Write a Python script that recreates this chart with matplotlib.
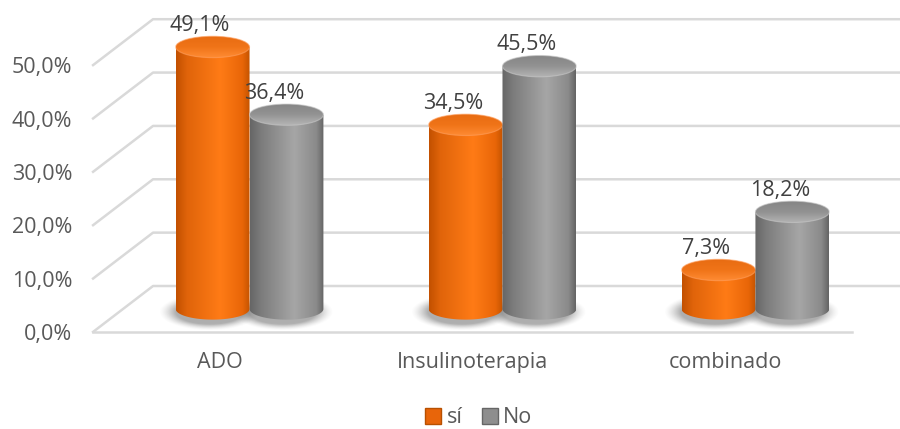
import numpy as np
import matplotlib
matplotlib.use('Agg')
import matplotlib.pyplot as plt
from matplotlib.colors import LinearSegmentedColormap
from matplotlib.patches import Ellipse, PathPatch, Patch
from matplotlib.path import Path

# Data
categories = ['ADO', 'Insulinoterapia', 'combinado']
si_values = [49.1, 34.5, 7.3]
no_values = [36.4, 45.5, 18.2]
series_names = ['sí', 'No']
y_ticks = [0, 10, 20, 30, 40, 50]

plt.rcParams['font.family'] = ['Open Sans', 'DejaVu Sans']
FS = 15.5
TEXT = '#595959'
LABEL = '#404040'
GRID = '#D9D9D9'

# oblique box depth (in category units / percent units)
DX, DY = 0.237, 8.6
# cylinder radius and half-height of its ellipses
RX, RY = 0.146, 2.0
DEPTH = 0.5

orange_body = LinearSegmentedColormap.from_list(
    'ob', [(0, '#C25000'), (0.15, '#E0640A'), (0.6, '#FF7B16'), (0.9, '#E96608'), (1, '#C45300')])
orange_cap = LinearSegmentedColormap.from_list('oc', ['#FF8C34', '#F07418', '#E86C12'])
gray_body = LinearSegmentedColormap.from_list(
    'gb', [(0, '#666666'), (0.15, '#7C7C7C'), (0.6, '#A6A6A6'), (0.9, '#8A8A8A'), (1, '#646464')])
gray_cap = LinearSegmentedColormap.from_list('gc', ['#B4B4B4', '#929292', '#858585'])

fig = plt.figure(figsize=(9, 4.29), dpi=100)
ax = fig.add_axes([0, 0, 1, 1])
n = len(categories)


def shadow(xc, base):
    x0, x1 = xc - RX * 1.6, xc + RX * 1.6
    y0, y1 = base - RY * 3, base + RY * 2
    gx, gy = np.meshgrid(np.linspace(x0, x1, 120), np.linspace(y0, y1, 60))
    r = np.sqrt(((gx - xc + 0.015) / (RX * 1.15)) ** 2 + ((gy - base + 0.6) / (RY * 1.45)) ** 2)
    alpha = 0.42 * np.clip((1.2 - r) / 0.4, 0, 1) ** 1.5
    img = np.zeros(gx.shape + (4,))
    img[..., :3] = 0.25
    img[..., 3] = alpha
    ax.imshow(img, extent=[x0, x1, y0, y1], origin='lower', aspect='auto',
              interpolation='bilinear', zorder=2)


def cylinder(xc, base, top, body_cmap, cap_cmap, rim, z):
    t = np.linspace(0, np.pi, 80)
    bottom = np.column_stack([xc + RX * np.cos(t), base - RY * np.sin(t)])
    verts = np.vstack([[[xc - RX, top], [xc + RX, top]], bottom, [[xc - RX, top]]])
    body = PathPatch(Path(verts), fc='none', ec='none', transform=ax.transData)
    ax.add_patch(body)
    grad = np.linspace(0, 1, 256).reshape(1, -1)
    im = ax.imshow(grad, extent=[xc - RX, xc + RX, base - RY, top], origin='lower',
                   aspect='auto', cmap=body_cmap, interpolation='bicubic', zorder=z)
    im.set_clip_path(body)

    cap = Ellipse((xc, top), 2 * RX, 2 * RY, fc='none', ec='none', transform=ax.transData)
    ax.add_patch(cap)
    vgrad = np.linspace(0, 1, 64).reshape(-1, 1)
    im2 = ax.imshow(vgrad, extent=[xc - RX, xc + RX, top - RY, top + RY], origin='lower',
                    aspect='auto', cmap=cap_cmap, interpolation='bicubic', zorder=z + 0.1)
    im2.set_clip_path(cap)
    ax.add_patch(Ellipse((xc, top), 2 * RX, 2 * RY, fc='none', ec=rim, lw=0.8,
                         alpha=0.6, zorder=z + 0.2))


def pct(v):
    return f'{v:.1f}%'.replace('.', ',')


# gridlines: left diagonal plus back wall line for each level
for v in y_ticks:
    ax.plot([0, DX, n + DX], [v, v + DY, v + DY], color=GRID, lw=1.8, zorder=1)
ax.plot([0, n], [0, 0], color=GRID, lw=1.8, zorder=1)

# cylinders
base = DEPTH * DY
for i, cat in enumerate(categories):
    xc = i + 0.5 + DEPTH * DX
    for j, (val, bc, cc, rim) in enumerate([(si_values[i], orange_body, orange_cap, '#FFA060'),
                                            (no_values[i], gray_body, gray_cap, '#C8C8C8')]):
        cx = xc + (j - 0.5) * 2 * RX
        top = base + val
        shadow(cx, base)
        cylinder(cx, base, top, bc, cc, rim, 3 + i + j * 0.5)
        ax.text(cx - 0.05, top + 4.0, pct(val), ha='center', va='center',
                fontsize=FS, color=LABEL, zorder=10)
    ax.text(i + 0.5, -5.8, cat, ha='center', va='center', fontsize=FS, color=TEXT)

for v in y_ticks:
    ax.text(-0.083, v - 0.5, pct(v), ha='right', va='center', fontsize=FS, color=TEXT)

handles = [Patch(fc='#E8650A', ec='#B85000', label=series_names[0]),
           Patch(fc='#8E8E8E', ec='#666666', label=series_names[1])]
fig.legend(handles=handles, loc='center', bbox_to_anchor=(0.532, 0.026), ncol=2,
           frameon=False, handlelength=0.75, handleheight=0.75, handletextpad=0.25,
           columnspacing=0.9, fontsize=FS, labelcolor=TEXT, borderpad=0.2)

ax.set_xlim(-0.368, 3.19)
ax.set_ylim(-18.2, 62.2)
ax.axis('off')

fig.savefig('out.png', dpi=100, facecolor='white')
